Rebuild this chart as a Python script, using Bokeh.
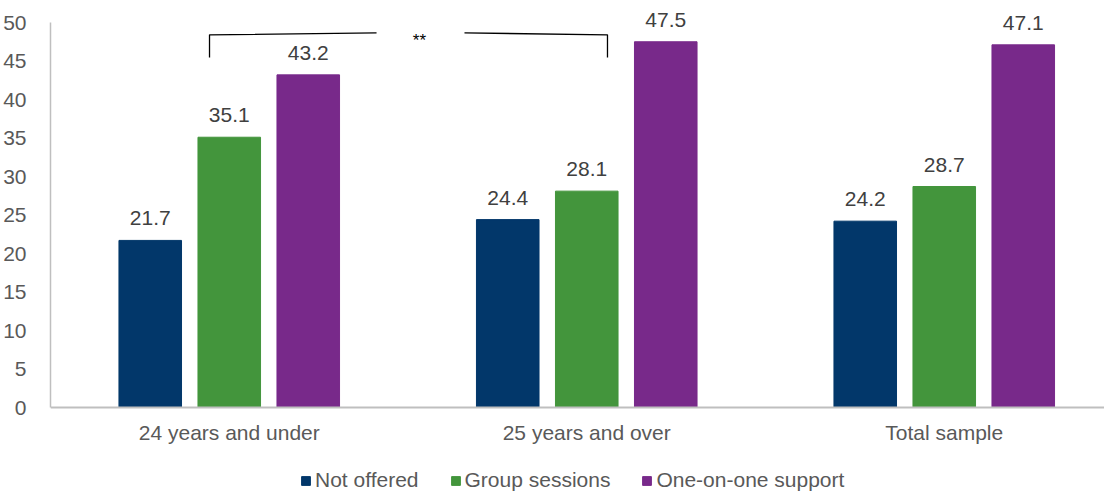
from bokeh.plotting import figure
from bokeh.models import Range1d, FixedTicker, Legend, LegendItem, ColumnDataSource, LabelSet, Label
from bokeh.transform import dodge
from bokeh.core.properties import value
from bokeh.embed import file_html
from bokeh.resources import INLINE

# ---- data ----
categories = ["24 years and under", "25 years and over", "Total sample"]
series = ["Not offered", "Group sessions", "One-on-one support"]
not_offered = [21.7, 24.4, 24.2]
group_sessions = [35.1, 28.1, 28.7]
one_on_one = [43.2, 47.5, 47.1]
y_ticks = [0, 5, 10, 15, 20, 25, 30, 35, 40, 45, 50]
sig_text = "**"

# ---- style ----
colors = ["#02376A", "#43953C", "#78298A"]
FONT = "Liberation Sans"
FRAME_W, FRAME_H = 1054, 484
PX_PER_CAT = 357.5
PX_PER_UNIT = 7.7
ZERO_FROM_TOP = 399   # px from frame top to the zero line
BAR_W = 0.175
STEP = 0.221

x_centers = [i + 0.5 for i in range(len(categories))]
values = [not_offered, group_sessions, one_on_one]

p = figure(
    x_range=Range1d(0, FRAME_W / PX_PER_CAT),
    y_range=Range1d(-(FRAME_H - ZERO_FROM_TOP) / PX_PER_UNIT, ZERO_FROM_TOP / PX_PER_UNIT),
    frame_width=FRAME_W, frame_height=FRAME_H,
    output_backend="svg", toolbar_location=None,
    min_border_left=46, min_border_right=0, min_border_top=8, min_border_bottom=0,
)
p.outline_line_color = None
p.xgrid.visible = False
p.ygrid.visible = False
p.background_fill_color = "white"

legend_items = []
offsets = [-STEP, 0.0, STEP]
for name, vals, col, off in zip(series, values, colors, offsets):
    src = ColumnDataSource(dict(x=x_centers, top=vals, label=[f"{v:.1f}" for v in vals]))
    r = p.vbar(x=dodge("x", off, range=p.x_range), top="top", bottom=0, width=BAR_W, source=src,
               fill_color=col, line_color=col, line_width=1)
    legend_items.append(LegendItem(label=name, renderers=[r]))
    p.add_layout(LabelSet(x=dodge("x", off, range=p.x_range), y="top", text="label", source=src,
                          y_offset=15, text_align="center", text_baseline="alphabetic",
                          text_font=value(FONT), text_font_size=value("21px"), text_color="#404040"))

# significance bracket (annotation)
p.line(x=[0.4448, 0.4448, 0.912], y=[45.45, 48.4, 48.65], line_color="black", line_width=1.3)
p.line(x=[1.158, 1.558, 1.558], y=[48.65, 48.4, 45.45], line_color="black", line_width=1.3)
p.add_layout(Label(x=1.032, y=47.6, text=sig_text, text_align="center", text_baseline="middle",
                   text_font=FONT, text_font_size="17px", text_color="black"))

# axes
p.yaxis.ticker = FixedTicker(ticks=y_ticks)
p.yaxis.bounds = (0, 50)
p.yaxis.axis_line_color = "#BFBFBF"
p.yaxis.axis_line_width = 1.5
p.yaxis.major_tick_line_color = None
p.yaxis.minor_tick_line_color = None
p.yaxis.major_label_standoff = 18
p.yaxis.major_label_text_font = FONT
p.yaxis.major_label_text_font_size = "21px"
p.yaxis.major_label_text_color = "#595959"

p.xaxis.fixed_location = 0
p.xaxis.ticker = FixedTicker(ticks=x_centers)
p.xaxis.major_label_overrides = {x: c for x, c in zip(x_centers, categories)}
p.xaxis.axis_line_color = "#BFBFBF"
p.xaxis.axis_line_width = 2
p.xaxis.major_tick_line_color = None
p.xaxis.minor_tick_line_color = None
p.xaxis.major_label_standoff = 7
p.xaxis.major_label_text_font = FONT
p.xaxis.major_label_text_font_size = "21px"
p.xaxis.major_label_text_color = "#595959"

legend = Legend(items=legend_items, orientation="horizontal", location=(250, 0),
                glyph_width=11, glyph_height=11, label_standoff=4, spacing=31,
                label_text_font=FONT, label_text_font_size="21px", label_text_color="#595959",
                border_line_color=None, background_fill_alpha=0, padding=0, margin=0)
p.add_layout(legend, "center")

open("out.html", "w").write(file_html(p, INLINE))
